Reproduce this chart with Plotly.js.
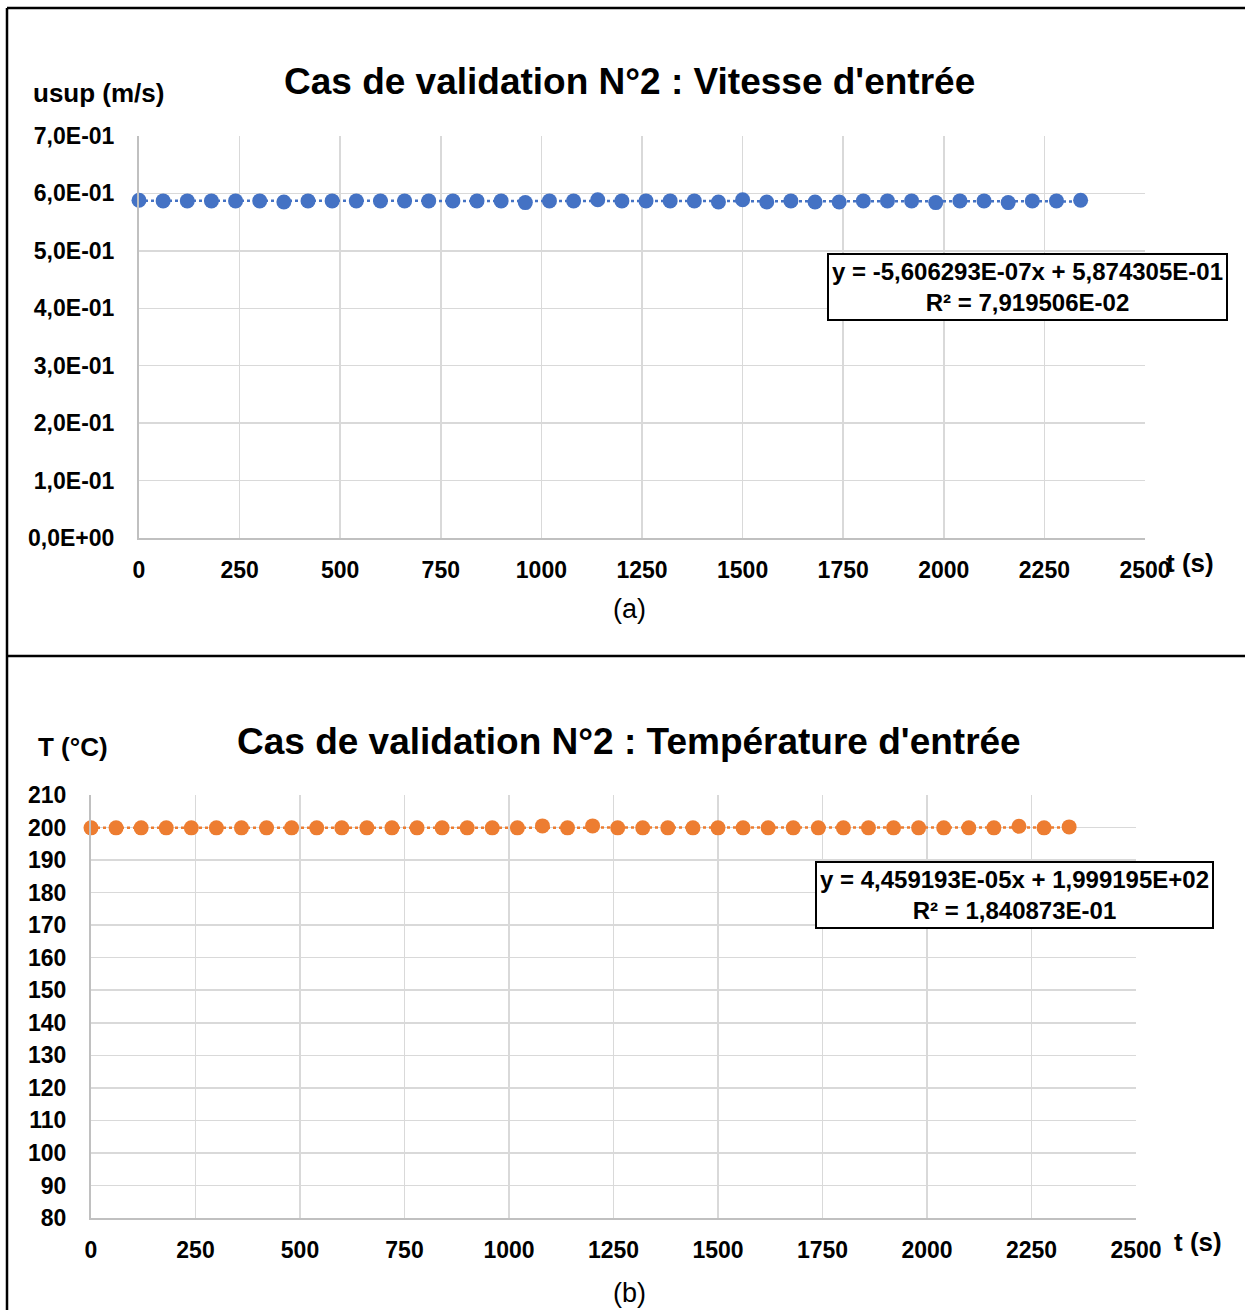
<!DOCTYPE html>
<html>
<head>
<meta charset="utf-8">
<script src="https://cdn.plot.ly/plotly-3.0.1.min.js"></script>
<style>html,body{margin:0;padding:0;background:#fff;}#chart{width:1245px;height:1310px;}</style>
</head>
<body>
<div id="chart"></div>
<script>
// ---- data ----
const tTime = [0,60,120,180,240,300,360,420,480,540,600,660,720,780,840,900,960,1020,1080,1140,
  1200,1260,1320,1380,1440,1500,1560,1620,1680,1740,1800,1860,1920,1980,2040,2100,2160,2220,2280,2340];
const usupValues = [0.588,0.587,0.587,0.587,0.587,0.587,0.585,0.587,0.587,0.587,
  0.587,0.587,0.587,0.587,0.587,0.587,0.584,0.587,0.587,0.589,
  0.587,0.587,0.587,0.587,0.585,0.589,0.585,0.587,0.585,0.585,
  0.587,0.587,0.587,0.584,0.587,0.587,0.584,0.587,0.587,0.588];
const tempValues = [199.9,199.9,199.9,199.9,199.9,199.9,199.9,199.9,199.9,199.9,
  199.9,199.9,199.9,199.9,199.9,199.9,199.9,199.9,200.5,199.9,
  200.5,199.9,199.9,199.9,199.9,199.9,199.9,199.9,199.9,199.9,
  199.9,199.9,199.9,199.9,199.9,199.9,199.9,200.4,199.9,200.2];
// trendline coefficients shown on the chart
const usupSlope = -5.606293e-07, usupIntercept = 5.874305e-01;
const tempSlope = 4.459193e-05, tempIntercept = 1.999195e+02;

const xTickVals = [0,250,500,750,1000,1250,1500,1750,2000,2250,2500];
const usupTickVals = [0,0.1,0.2,0.3,0.4,0.5,0.6,0.7];
const usupTickText = ['0,0E+00','1,0E-01','2,0E-01','3,0E-01','4,0E-01','5,0E-01','6,0E-01','7,0E-01'];
const tempTickVals = [80,90,100,110,120,130,140,150,160,170,180,190,200,210];

const titleA = "Cas de validation N°2 : Vitesse d'entrée";
const titleB = "Cas de validation N°2 : Température d'entrée";
const eqA = "y = -5,606293E-07x + 5,874305E-01<br>R² = 7,919506E-02";
const eqB = "y = 4,459193E-05x + 1,999195E+02<br>R² = 1,840873E-01";

// ---- styles ----
const FONT = "Liberation Sans, Arial, sans-serif";
const BLUE = '#4472C4', ORANGE = '#ED7D31';
const W = 1245, H = 1310;
const px = x => x / W, py = y => 1 - y / H;

const tEnds = [tTime[0], tTime[tTime.length - 1]];

const traces = [
  {x: tEnds, y: tEnds.map(t => usupSlope * t + usupIntercept), xaxis: 'x', yaxis: 'y',
   mode: 'lines', line: {color: BLUE, width: 2.5, dash: 'dot'}, hoverinfo: 'skip', cliponaxis: false},
  {x: tTime, y: usupValues, xaxis: 'x', yaxis: 'y', mode: 'markers', cliponaxis: false,
   marker: {color: BLUE, size: 15}},
  {x: tEnds, y: tEnds.map(t => tempSlope * t + tempIntercept), xaxis: 'x2', yaxis: 'y2',
   mode: 'lines', line: {color: ORANGE, width: 2.5, dash: 'dot'}, hoverinfo: 'skip', cliponaxis: false},
  {x: tTime, y: tempValues, xaxis: 'x2', yaxis: 'y2', mode: 'markers', cliponaxis: false,
   marker: {color: ORANGE, size: 15}}
];

const tickFont = {family: FONT, size: 23, color: '#000', weight: 'bold'};
const axCommon = {
  showgrid: true, gridcolor: '#d9d9d9', gridwidth: 1.5,
  showline: true, linecolor: '#c0c0c0', linewidth: 2,
  zeroline: false, ticks: '', tickfont: tickFont, fixedrange: true
};

const layout = {
  width: W, height: H, showlegend: false,
  margin: {l: 0, r: 0, t: 0, b: 0},
  paper_bgcolor: '#fff', plot_bgcolor: '#fff',
  font: {family: FONT, color: '#000'},
  xaxis: Object.assign({}, axCommon, {domain: [px(139), px(1145)], range: [0, 2500],
    tickvals: xTickVals, anchor: 'y', ticklabelstandoff: 10}),
  yaxis: Object.assign({}, axCommon, {domain: [py(538), py(136)], range: [0, 0.7],
    tickvals: usupTickVals, ticktext: usupTickText, anchor: 'x', ticklabelstandoff: 18}),
  xaxis2: Object.assign({}, axCommon, {domain: [px(91), px(1136)], range: [0, 2500],
    tickvals: xTickVals, anchor: 'y2', ticklabelstandoff: 10}),
  yaxis2: Object.assign({}, axCommon, {domain: [py(1218), py(795)], range: [80, 210],
    tickvals: tempTickVals, anchor: 'x2', ticklabelstandoff: 18}),
  shapes: [
    {type: 'line', xref: 'paper', yref: 'paper', x0: px(7), x1: 1, y0: py(8), y1: py(8), line: {color: '#000', width: 2.5}},
    {type: 'line', xref: 'paper', yref: 'paper', x0: px(7), x1: 1, y0: py(656), y1: py(656), line: {color: '#000', width: 2.5}},
    {type: 'line', xref: 'paper', yref: 'paper', x0: px(7), x1: px(7), y0: py(8), y1: 0, line: {color: '#000', width: 2.5}}
  ],
  annotations: [
    {text: titleA, xref: 'paper', yref: 'paper', x: px(629), y: py(82), showarrow: false,
     font: {family: FONT, size: 37, weight: 'bold'}, xanchor: 'center', yanchor: 'middle'},
    {text: titleB, xref: 'paper', yref: 'paper', x: px(629), y: py(741), showarrow: false,
     font: {family: FONT, size: 37, weight: 'bold'}, xanchor: 'center', yanchor: 'middle'},
    {text: 'usup (m/s)', xref: 'paper', yref: 'paper', x: px(98), y: py(93), showarrow: false,
     font: {family: FONT, size: 26, weight: 'bold'}, xanchor: 'center', yanchor: 'middle'},
    {text: 't (s)', xref: 'paper', yref: 'paper', x: px(1190), y: py(563), showarrow: false,
     font: {family: FONT, size: 26, weight: 'bold'}, xanchor: 'center', yanchor: 'middle'},
    {text: 'T (°C)', xref: 'paper', yref: 'paper', x: px(73), y: py(747), showarrow: false,
     font: {family: FONT, size: 26, weight: 'bold'}, xanchor: 'center', yanchor: 'middle'},
    {text: 't (s)', xref: 'paper', yref: 'paper', x: px(1198), y: py(1242), showarrow: false,
     font: {family: FONT, size: 26, weight: 'bold'}, xanchor: 'center', yanchor: 'middle'},
    {text: '(a)', xref: 'paper', yref: 'paper', x: px(629), y: py(609), showarrow: false,
     font: {family: FONT, size: 27}, xanchor: 'center', yanchor: 'middle'},
    {text: '(b)', xref: 'paper', yref: 'paper', x: px(629), y: py(1293), showarrow: false,
     font: {family: FONT, size: 27}, xanchor: 'center', yanchor: 'middle'},
    {text: eqA, xref: 'paper', yref: 'paper', x: px(1027), y: py(287), showarrow: false,
     font: {family: FONT, size: 24, weight: 'bold'}, xanchor: 'center', yanchor: 'middle',
     align: 'center', bgcolor: '#fff', bordercolor: '#000', borderwidth: 2, borderpad: 3},
    {text: eqB, xref: 'paper', yref: 'paper', x: px(1014), y: py(895), showarrow: false,
     font: {family: FONT, size: 24, weight: 'bold'}, xanchor: 'center', yanchor: 'middle',
     align: 'center', bgcolor: '#fff', bordercolor: '#000', borderwidth: 2, borderpad: 3}
  ]
};

Plotly.newPlot('chart', traces, layout, {staticPlot: true, displayModeBar: false});
</script>
</body>
</html>
